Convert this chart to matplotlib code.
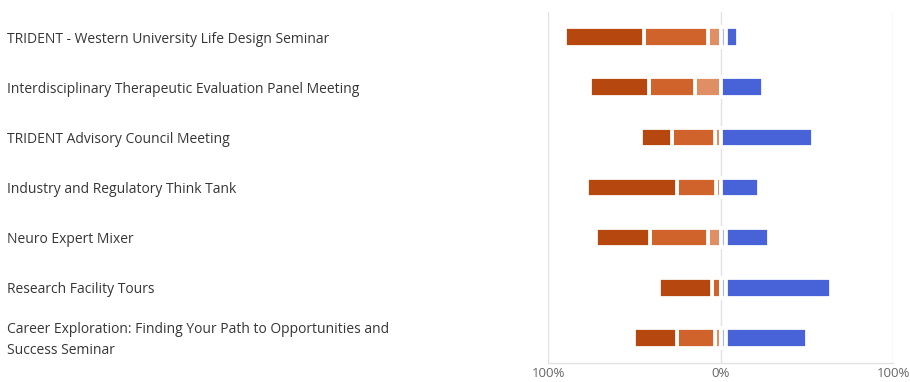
import matplotlib
matplotlib.use("Agg")
import matplotlib.pyplot as plt
import matplotlib.transforms as mtransforms
import numpy as np

events = [
    "TRIDENT - Western University Life Design Seminar",
    "Interdisciplinary Therapeutic Evaluation Panel Meeting",
    "TRIDENT Advisory Council Meeting",
    "Industry and Regulatory Think Tank",
    "Neuro Expert Mixer",
    "Research Facility Tours",
    "Career Exploration: Finding Your Path to Opportunities and\nSuccess Seminar",
]

# percentages (negative side, from outermost to innermost)
strong_neg = [46.2, 34.0, 18.0, 52.6, 30.9, 30.8, 25.1]
neg = [36.8, 27.0, 25.3, 22.2, 33.6, 5.0, 22.1]
slight_neg = [7.3, 14.5, 2.9, 2.8, 7.5, 0.0, 2.9]
# positive side, from innermost to outermost
slight_pos = [2.9, 0.0, 0.0, 0.0, 2.9, 2.9, 2.9]
pos = [7.0, 24.5, 53.8, 22.4, 25.2, 61.2, 47.2]

tick_vals = [-100, 0, 100]
tick_labels = ["100%", "0%", "100%"]

c_strong_neg = "#B5470F"
c_neg = "#D0622B"
c_slight_neg = "#E08E63"
c_slight_pos = "#A9B7F2"
c_pos = "#4862D8"

plt.rcParams['font.family'] = ['Open Sans', 'DejaVu Sans']

fig = plt.figure(figsize=(9.10, 3.82), dpi=100)
ax = fig.add_axes([548 / 910, 1 - 363 / 382, (893 - 548) / 910, (363 - 12) / 382])

n = len(events)
y = np.arange(n)
h = 0.39
ec = "white"
lw = 2.7

sn = np.array(slight_neg)
nn = np.array(neg)
ss = np.array(strong_neg)
sp = np.array(slight_pos)
pp = np.array(pos)

ax.barh(y, -sn, left=0, height=h, color=c_slight_neg, edgecolor=ec, linewidth=lw, zorder=3)
ax.barh(y, -nn, left=-sn, height=h, color=c_neg, edgecolor=ec, linewidth=lw, zorder=3)
ax.barh(y, -ss, left=-sn - nn, height=h, color=c_strong_neg, edgecolor=ec, linewidth=lw, zorder=3)
ax.barh(y, sp, left=0, height=h, color=c_slight_pos, edgecolor=ec, linewidth=lw, zorder=3)
ax.barh(y, pp, left=sp, height=h, color=c_pos, edgecolor=ec, linewidth=lw, zorder=3)

ax.set_xlim(-100, 100)
ax.set_ylim(n - 0.5, -0.5)
ax.set_xticks(tick_vals)
ax.set_xticklabels(tick_labels, fontsize=9.5, color="#666666")
ax.tick_params(axis='x', length=0, pad=3)
ax.set_yticks([])
for v in tick_vals:
    ax.axvline(v, color="#E3E3E3", linewidth=1.0, zorder=1)
for s in ["top", "left", "right"]:
    ax.spines[s].set_visible(False)
ax.spines["bottom"].set_color("#E3E3E3")
ax.spines["bottom"].set_linewidth(1.0)

trans = mtransforms.blended_transform_factory(fig.transFigure, ax.transData)
trans = trans + mtransforms.ScaledTranslation(0, -1.5 / 72, fig.dpi_scale_trans)
for i, lab in enumerate(events):
    ax.text(7 / 910, i, lab, transform=trans, ha="left", va="center",
            fontsize=10, color="#363636", linespacing=1.6)

fig.savefig("out.png", dpi=100, facecolor="white")
